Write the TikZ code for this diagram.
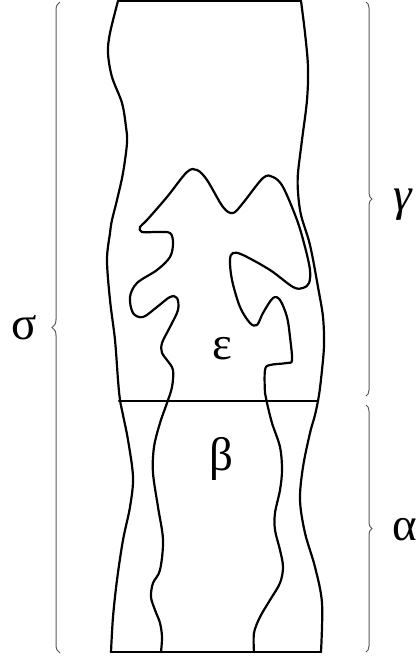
\documentclass[tikz,border=0pt]{standalone}
\usepackage{fontspec}
\setmainfont{Liberation Serif}
\usetikzlibrary{decorations.pathreplacing}
\begin{document}
\begin{tikzpicture}[x=1pt,y=-1pt,
  wall/.style={line width=2.2pt,line join=round,line cap=round},
  curvy/.style={wall,smooth,tension=0.55},
  bracegray/.style={draw=black!65,line width=1pt,decorate,decoration={brace,amplitude=7pt}},
  greek/.style={inner sep=0pt,font=\fontsize{47}{52}\selectfont}]
\useasboundingbox (0,0) rectangle (419,657);
% outer walls
\draw[curvy] plot coordinates {(118,1) (110,33) (108,53) (112,77) (122,103) (126,127) (127,143) (123,173) (117,200) (112,220) (110,233) (107,260) (110,300) (115,340) (118,380) (120,400) (123,415) (128,440) (133,477) (130,507) (123,540) (117,580) (113,617) (111,652)};
\draw[curvy] plot coordinates {(301,1) (305,33) (308,67) (307,100) (302,140) (298,173) (298,192) (301,215) (310,245) (318,287) (323,317) (324,345) (322,370) (319,395) (315,415) (310,433) (303,467) (300,500) (305,533) (315,567) (322,603) (321,652)};
\coordinate (tl) at (118,1); \coordinate (tr) at (301,1);
\coordinate (bl) at (111,652); \coordinate (br) at (321,652);
\coordinate (ml) at (119,401); \coordinate (mr) at (318,401);
\draw[wall] (tl) -- (tr);
\draw[wall] (bl) -- (br);
\draw[wall] (ml) -- (mr);
% inner region
\draw[curvy] plot coordinates {(161,652) (162,637) (160,623) (155,610) (151,597) (153,583) (160,570) (163,540) (158,507) (153,473) (154,447) (160,423) (167,403) (172,387) (173,370) (167,360) (162,353) (162,343) (170,327) (178,310) (177,298) (170,297) (157,307) (143,317) (133,313) (130,297) (137,283) (157,270) (170,257) (173,243) (170,233) (157,232) (142,232) (140,227) (147,220) (167,197) (187,172) (197,170) (207,180) (223,207) (233,213) (243,203) (263,178) (273,177) (283,187) (297,220) (305,247) (310,270) (309,283) (303,288) (293,287) (270,270) (243,255) (233,253) (230,260) (232,280) (240,307) (250,323) (257,325) (263,313) (273,298) (280,300) (287,317) (290,337) (292,360) (287,363) (270,365) (265,370) (265,393) (267,403) (272,423) (280,447) (282,470) (280,490) (275,513) (275,530) (280,550) (283,567) (280,583) (270,600) (260,617) (254,633) (254,652)};
% braces
\coordinate (sb) at (60,653); \coordinate (st) at (60,2);
\coordinate (gt) at (366,2); \coordinate (gb) at (366,396);
\coordinate (at) at (366,405); \coordinate (ab) at (366,652);
\draw[bracegray,decoration={amplitude=8pt}] (sb) -- (st);
\draw[bracegray,decoration={amplitude=6pt}] (gt) -- (gb);
\draw[bracegray,decoration={amplitude=6pt}] (at) -- (ab);
% labels
\node[greek] (sigma) at (24,328) {σ};
\node[greek,font=\fontsize{47}{52}\selectfont\itshape] (gamma) at (403,205) {γ};
\node[greek] (alpha) at (405,530) {α};
\node[greek] (eps) at (222,349) {ε};
\node[greek] (beta) at (221,459) {β};
\end{tikzpicture}
\end{document}
